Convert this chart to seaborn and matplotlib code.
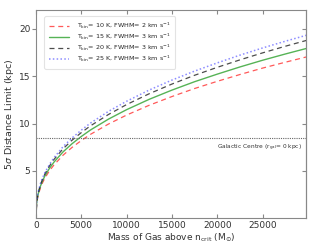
import matplotlib
matplotlib.use("Agg")
import matplotlib.pyplot as plt
import seaborn as sns
import pandas as pd

mass = [0, 100, 250, 500, 750, 1000, 1500, 2000, 3000, 4000, 5000, 6000, 8000,
        10000, 12500, 15000, 17500, 20000, 22500, 25000, 27500, 30000]
d_10K = [0, 1.64, 2.40, 3.19, 3.76, 4.24, 5.00, 5.62, 6.65, 7.48, 8.19, 8.84, 9.94,
         10.89, 11.93, 12.85, 13.70, 14.46, 15.18, 15.86, 16.48, 17.08]
d_15K = [0, 1.73, 2.53, 3.36, 3.96, 4.46, 5.26, 5.92, 7.00, 7.87, 8.62, 9.30, 10.46,
         11.46, 12.56, 13.53, 14.42, 15.22, 15.98, 16.69, 17.35, 17.98]
d_20K = [0, 1.81, 2.65, 3.52, 4.15, 4.67, 5.51, 6.20, 7.33, 8.24, 9.03, 9.74, 10.95,
         12.00, 13.15, 14.17, 15.10, 15.94, 16.73, 17.47, 18.17, 18.83]
d_25K = [0, 1.86, 2.73, 3.62, 4.27, 4.81, 5.67, 6.38, 7.55, 8.48, 9.29, 10.03, 11.28,
         12.35, 13.54, 14.59, 15.54, 16.41, 17.23, 17.99, 18.70, 19.38]
labels = [r"T$_{\rm kin}$= 10 K, FWHM= 2 km s$^{-1}$",
          r"T$_{\rm kin}$= 15 K, FWHM= 3 km s$^{-1}$",
          r"T$_{\rm kin}$= 20 K, FWHM= 3 km s$^{-1}$",
          r"T$_{\rm kin}$= 25 K, FWHM= 3 km s$^{-1}$"]
gc_distance = 8.5
xticks = [0, 5000, 10000, 15000, 20000, 25000]
yticks = [5, 10, 15, 20]

sns.set_style("white")
plt.rcParams['font.family'] = ['DejaVu Sans']
plt.rcParams['mathtext.fontset'] = 'dejavusans'

fig = plt.figure(figsize=(3.26, 2.45), dpi=100)
ax = fig.add_axes([0.110, 0.110, 0.829, 0.849])

styles = [dict(color="#ff3030", ls=(0, (4, 3)), lw=0.9, alpha=0.8),
          dict(color="#2ca02c", ls="-", lw=1.0, alpha=0.8),
          dict(color="#202020", ls=(0, (4, 3)), lw=0.9, alpha=0.8),
          dict(color="#4040ff", ls=(0, (1, 1.5)), lw=1.1, alpha=0.6)]
for d, lab, st in zip([d_10K, d_15K, d_20K, d_25K], labels, styles):
    df = pd.DataFrame({"mass": mass, "d": d})
    sns.lineplot(data=df, x="mass", y="d", ax=ax, label=lab, **st)

ax.axhline(gc_distance, color="#666666", ls=(0, (1, 1)), lw=0.8)
ax.text(29300, gc_distance - 0.5, r"Galactic Centre (r$_{\rm gal}$= 0 kpc)",
        ha="right", va="top", fontsize=4.2, color="#333333")

ax.set_xlim(0, 29800)
ax.set_ylim(0, 22)
ax.set_xticks(xticks)
ax.set_yticks(yticks)
ax.set_xlabel(r"Mass of Gas above n$_{\rm crit}$ (M$_{\odot}$)", fontsize=6.5, color="#333333", labelpad=1)
ax.set_ylabel(r"5$\sigma$ Distance Limit (kpc)", fontsize=6.8, color="#333333", labelpad=2)
ax.tick_params(axis="x", direction="in", length=3, labelsize=6.5, colors="#888888",
               labelcolor="#333333", top=True, bottom=True, pad=2)
ax.tick_params(axis="y", direction="out", length=3, labelsize=6.5, colors="#888888",
               labelcolor="#333333", left=True, right=False, pad=1)
sec = ax.secondary_yaxis("right")
sec.set_yticks(yticks)
sec.tick_params(direction="in", length=3, colors="#888888", labelright=False)
sec.spines["right"].set_color("#888888")
sec.spines["right"].set_linewidth(0.8)
for s in ax.spines.values():
    s.set_color("#888888")
    s.set_linewidth(0.8)

leg = ax.legend(loc="upper left", fontsize=4.6, frameon=True, handlelength=3.2,
                borderpad=0.7, labelspacing=0.15, handletextpad=1.2,
                bbox_to_anchor=(0.02, 0.985))
leg.get_frame().set_edgecolor("#dddddd")
leg.get_frame().set_linewidth(0.8)

fig.savefig("out.png", dpi=100)
